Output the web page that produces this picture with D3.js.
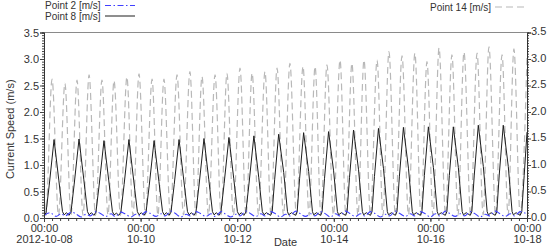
<!DOCTYPE html>
<html>
<head>
<meta charset="utf-8">
<script src="https://cdn.jsdelivr.net/npm/d3@7"></script>
<style>
  body { margin: 0; background: #fff; }
  text { font-family: "Liberation Sans", Arial, sans-serif; }
</style>
</head>
<body>
<div id="wrapper"></div>
<script>
// hours since 2012-10-08 00:00, current speed (m/s)
const point2 = [
  [0,0.05],[3,0.10],[6,0.03],[8.5,0.08],[10.5,0.04],[13.5,0.11],
  [15.4,0.09],[18.4,0.02],[20.9,0.07],[22.9,0.04],[25.9,0.12],
  [27.8,0.09],[30.8,0.03],[33.3,0.08],[35.3,0.03],[38.3,0.11],
  [40.2,0.08],[43.2,0.02],[45.7,0.07],[47.7,0.04],[50.7,0.12],
  [52.7,0.09],[55.7,0.03],[58.2,0.08],[60.2,0.04],[63.2,0.13],
  [65.1,0.09],[68.1,0.02],[70.6,0.07],[72.6,0.04],[75.6,0.12],
  [77.5,0.09],[80.5,0.03],[83.0,0.08],[85.0,0.03],[88.0,0.12],
  [89.9,0.08],[92.9,0.02],[95.4,0.07],[97.4,0.04],[100.4,0.13],
  [102.3,0.09],[105.3,0.03],[107.8,0.08],[109.8,0.04],[112.8,0.12],
  [114.6,0.09],[117.6,0.02],[120.1,0.07],[122.1,0.04],[125.1,0.13],
  [127.0,0.09],[130.0,0.03],[132.5,0.08],[134.5,0.04],[137.5,0.12],
  [139.4,0.09],[142.4,0.02],[144.9,0.08],[146.9,0.04],[149.9,0.13],
  [151.8,0.09],[154.8,0.03],[157.3,0.08],[159.3,0.04],[162.3,0.12],
  [164.2,0.09],[167.2,0.02],[169.7,0.07],[171.7,0.04],[174.7,0.13],
  [176.6,0.09],[179.6,0.03],[182.1,0.08],[184.1,0.04],[187.1,0.12],
  [189.0,0.09],[192.0,0.02],[194.5,0.08],[196.5,0.04],[199.5,0.13],
  [201.4,0.09],[204.4,0.03],[206.9,0.08],[208.9,0.04],[211.9,0.12],
  [213.8,0.09],[216.8,0.02],[219.3,0.07],[221.3,0.04],[224.3,0.13],
  [226.2,0.09],[229.2,0.03],[231.7,0.08],[233.7,0.04],[236.7,0.12],
  [238.6,0.10],[240,0.08]
]

const point8 = [
  [0.0,0.04],[1.0,0.10],[2.6,0.62],[5.0,1.48],[7.4,0.70],[9.2,0.12],[10.0,0.06],[11.2,0.10],
  [12.4,0.05],[13.4,0.11],[15.0,0.64],[17.4,1.49],[19.8,0.72],[21.6,0.12],[22.4,0.06],[23.6,0.10],
  [24.8,0.05],[25.8,0.11],[27.4,0.62],[29.8,1.46],[32.2,0.70],[34.0,0.12],[34.8,0.06],[36.0,0.09],
  [37.2,0.05],[38.2,0.11],[39.8,0.63],[42.2,1.48],[44.6,0.70],[46.4,0.12],[47.2,0.06],[48.4,0.10],
  [49.7,0.05],[50.7,0.11],[52.3,0.62],[54.7,1.46],[57.1,0.69],[58.9,0.12],[59.7,0.06],[60.9,0.10],
  [62.1,0.05],[63.1,0.11],[64.7,0.63],[67.1,1.48],[69.5,0.70],[71.3,0.12],[72.1,0.06],[73.3,0.10],
  [74.5,0.05],[75.5,0.11],[77.1,0.64],[79.5,1.50],[81.9,0.72],[83.7,0.12],[84.5,0.06],[85.7,0.10],
  [86.9,0.05],[87.9,0.11],[89.5,0.65],[91.9,1.52],[94.3,0.74],[96.1,0.12],[96.9,0.06],[98.1,0.10],
  [99.3,0.05],[100.3,0.11],[101.9,0.66],[104.3,1.55],[106.7,0.77],[108.5,0.12],[109.3,0.06],[110.5,0.10],
  [112.6,0.05],[113.4,0.12],[114.6,0.72],[116.6,1.58],[119.1,0.86],[121.0,0.12],[121.6,0.06],[123.0,0.10],
  [125.0,0.05],[125.8,0.12],[127.0,0.74],[129.0,1.61],[131.5,0.88],[133.4,0.12],[134.0,0.06],[135.4,0.10],
  [137.4,0.05],[138.2,0.12],[139.4,0.75],[141.4,1.63],[143.9,0.89],[145.8,0.12],[146.4,0.06],[147.8,0.10],
  [149.8,0.05],[150.6,0.12],[151.8,0.76],[153.8,1.66],[156.3,0.91],[158.2,0.12],[158.8,0.06],[160.2,0.10],
  [162.2,0.05],[163.0,0.12],[164.2,0.78],[166.2,1.69],[168.7,0.93],[170.6,0.12],[171.2,0.06],[172.6,0.10],
  [174.6,0.05],[175.4,0.12],[176.6,0.79],[178.6,1.71],[181.1,0.94],[183.0,0.12],[183.6,0.06],[185.0,0.10],
  [187.0,0.05],[187.8,0.12],[189.0,0.80],[191.0,1.72],[193.5,0.95],[195.4,0.12],[196.0,0.06],[197.4,0.10],
  [199.4,0.05],[200.2,0.12],[201.4,0.80],[203.4,1.72],[205.9,0.95],[207.8,0.12],[208.4,0.06],[209.8,0.10],
  [211.8,0.05],[212.6,0.12],[213.8,0.81],[215.8,1.75],[218.3,0.97],[220.2,0.12],[220.8,0.06],[222.2,0.10],
  [224.2,0.05],[225.0,0.12],[226.2,0.81],[228.2,1.75],[230.7,0.97],[232.6,0.12],[233.2,0.06],[234.6,0.10],
  [236.6,0.05],[237.4,0.12],[238.6,0.80],[240.0,1.62]
]

const point14 = [
  [0,0.5],[0.9,0.05],[4.0,2.62],[7.2,0.05],[10.4,2.54],[13.4,0.06],[16.4,2.60],
  [19.4,0.05],[22.4,2.70],[25.6,0.05],[28.8,2.60],[31.8,0.06],[34.8,2.59],
  [38.0,0.05],[41.2,2.66],[44.2,0.05],[47.2,2.72],[50.4,0.06],[53.7,2.62],
  [56.6,0.05],[59.6,2.62],[62.8,0.05],[66.1,2.70],[69.3,0.06],[72.5,2.76],
  [75.5,0.05],[78.5,2.67],[81.7,0.05],[85.0,2.70],[88.0,0.06],[90.9,2.73],
  [94.1,0.05],[97.4,2.83],[100.4,0.05],[103.4,2.73],[106.6,0.06],[109.8,2.76],
  [112.8,0.05],[115.8,2.83],[119.0,0.05],[122.2,2.92],[125.4,0.06],[128.7,2.86],
  [131.7,0.05],[134.7,2.86],[137.6,0.05],[140.6,2.89],[143.8,0.06],[147.1,2.98],
  [150.0,0.05],[153.0,2.92],[156.0,0.05],[159.0,2.98],[162.2,0.06],[165.5,2.98],
  [168.4,0.05],[171.4,3.14],[174.6,0.05],[177.9,3.06],[181.1,0.06],[184.3,3.11],
  [187.3,0.05],[190.3,2.95],[193.3,0.05],[196.3,3.21],[199.5,0.06],[202.7,3.08],
  [205.7,0.05],[208.7,3.13],[212.0,0.05],[215.2,3.11],[218.2,0.06],[221.1,3.23],
  [224.4,0.05],[227.6,3.08],[230.6,0.05],[233.5,3.19],[236.6,0.06],[240,3.02]
]

const yTicks = [0, 0.5, 1.0, 1.5, 2.0, 2.5, 3.0, 3.5]
const xTickDays = [8, 10, 12, 14, 16, 18]
const xTickDates = ["2012-10-08", "10-10", "10-12", "10-14", "10-16", "10-18"]

const seriesNames = ["Point 2 [m/s]", "Point 8 [m/s]", "Point 14 [m/s]"]

// dimensions
const width = 550
const height = 251
const margin = { top: 32.5, right: 23, bottom: 33, left: 44 }

const start = new Date(2012, 9, 8)
const end = new Date(2012, 9, 18)
const toDate = h => new Date(start.getTime() + h * 3600e3)

const svg = d3.select("#wrapper").append("svg")
  .attr("width", width)
  .attr("height", height)

const xScale = d3.scaleTime()
  .domain([start, end])
  .range([margin.left, width - margin.right])

const yScale = d3.scaleLinear()
  .domain([0, 3.5])
  .range([height - margin.bottom, margin.top])

svg.append("defs").append("clipPath").attr("id", "clip")
  .append("rect")
  .attr("x", margin.left).attr("y", margin.top)
  .attr("width", xScale.range()[1] - margin.left)
  .attr("height", yScale(0) - margin.top)

const lineFor = curve => d3.line()
  .x(d => xScale(toDate(d[0])))
  .y(d => yScale(d[1]))
  .curve(curve)

const styles = [
  { data: point2, color: "#4040ff", dash: "6,2.5,1.5,2.5", w: 1.1, curve: d3.curveMonotoneX },
  { data: point8, color: "#1e1e1e", dash: null, w: 1, curve: d3.curveLinear },
  { data: point14, color: "#b8b8b8", dash: "7,4", w: 1.2, curve: d3.curveMonotoneX },
]

const lines = svg.append("g").attr("clip-path", "url(#clip)")
// grey first, then black, then blue on top
;[2, 1, 0].forEach(i => {
  lines.append("path")
    .datum(styles[i].data)
    .attr("d", lineFor(styles[i].curve))
    .attr("fill", "none")
    .attr("stroke", styles[i].color)
    .attr("stroke-width", styles[i].w)
    .attr("stroke-dasharray", styles[i].dash)
})

// top frame
svg.append("line")
  .attr("x1", margin.left).attr("x2", xScale.range()[1])
  .attr("y1", margin.top).attr("y2", margin.top)
  .attr("stroke", "#8a8a8a")

// left axis
const minor = d3.range(0, 3.5001, 0.05)
const leftMinor = svg.append("g")
  .attr("transform", `translate(${margin.left},0)`)
  .call(d3.axisLeft(yScale).tickValues(minor).tickSize(2).tickFormat(""))
const leftAxis = svg.append("g")
  .attr("transform", `translate(${margin.left},0)`)
  .call(d3.axisLeft(yScale).tickValues(yTicks).tickSize(4).tickPadding(1).tickFormat(d3.format(".1f")))

// right axis
const rightMinor = svg.append("g")
  .attr("transform", `translate(${xScale.range()[1]},0)`)
  .call(d3.axisRight(yScale).tickValues(minor).tickSize(2).tickFormat(""))
const rightAxis = svg.append("g")
  .attr("transform", `translate(${xScale.range()[1]},0)`)
  .call(d3.axisRight(yScale).tickValues(yTicks).tickSize(4).tickPadding(0).tickFormat(d3.format(".1f")))
rightAxis.selectAll(".tick text").attr("dy", "0.2em")

// bottom axis
const bottomMinor = svg.append("g")
  .attr("transform", `translate(0,${yScale(0)})`)
  .call(d3.axisBottom(xScale).tickValues(d3.timeHour.every(4).range(start, d3.timeHour.offset(end, 1))).tickSize(3).tickFormat(""))
const bottomAxis = svg.append("g")
  .attr("transform", `translate(0,${yScale(0)})`)
  .call(d3.axisBottom(xScale).tickValues(xTickDays.map(d => new Date(2012, 9, d))).tickSize(4).tickFormat(""))

bottomAxis.selectAll(".tick").each(function(d, i) {
  const t = d3.select(this).append("text")
    .attr("fill", "#333")
    .attr("text-anchor", "middle")
    .style("font-size", "11px")
  t.append("tspan").attr("x", 0).attr("y", 14).text("00:00")
  t.append("tspan").attr("x", 0).attr("y", 25).text(xTickDates[i])
})

;[leftMinor, leftAxis, rightMinor, rightAxis, bottomMinor, bottomAxis].forEach(g => {
  g.select(".domain").attr("stroke", "#333")
  g.selectAll(".tick line").attr("stroke", "#444")
  g.selectAll(".tick text").attr("fill", "#333").style("font-size", "11px")
})

// axis titles
svg.append("text")
  .attr("transform", `translate(14,${(margin.top + yScale(0)) / 2 + 4}) rotate(-90)`)
  .attr("text-anchor", "middle")
  .attr("fill", "#333")
  .style("font-size", "11px")
  .text("Current Speed (m/s)")

svg.append("text")
  .attr("x", (margin.left + xScale.range()[1]) / 2)
  .attr("y", 246)
  .attr("text-anchor", "middle")
  .attr("fill", "#333")
  .style("font-size", "11px")
  .text("Date")

// legend
const legendItems = [
  { x: 45, y: 9, lx: 105, i: 0 },
  { x: 45, y: 19.5, lx: 105, i: 1 },
  { x: 430, y: 10.5, lx: 495, i: 2 },
]
legendItems.forEach(l => {
  svg.append("text")
    .attr("x", l.x).attr("y", l.y)
    .attr("fill", "#333")
    .style("font-size", "10px")
    .text(seriesNames[l.i])
  svg.append("line")
    .attr("x1", l.lx).attr("x2", l.lx + 30)
    .attr("y1", l.y - 3.5).attr("y2", l.y - 3.5)
    .attr("stroke", styles[l.i].color)
    .attr("stroke-width", styles[l.i].w)
    .attr("stroke-dasharray", styles[l.i].dash)
})
</script>
</body>
</html>
